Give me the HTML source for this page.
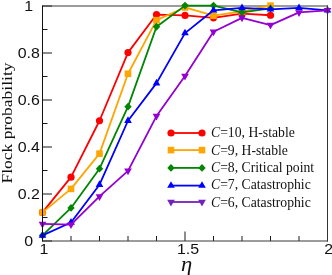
<!DOCTYPE html><html><head><meta charset="utf-8"><style>html,body{margin:0;padding:0;background:#fff}svg{display:block;will-change:transform}text{font-family:"Liberation Sans",sans-serif}.s{font-family:"Liberation Serif",serif}</style></head><body>
<svg width="332" height="275" viewBox="0 0 332 275">
<rect width="332" height="275" fill="#fff"/>
<path d="M42.50 241.0V231.5M71.00 241.0V236.0M99.50 241.0V236.0M128.00 241.0V236.0M156.50 241.0V236.0M185.00 241.0V231.5M213.50 241.0V236.0M242.00 241.0V236.0M270.50 241.0V236.0M299.00 241.0V236.0M327.50 241.0V231.5M42.5 241.00H52.0M42.5 217.50H47.5M42.5 194.00H52.0M42.5 170.50H47.5M42.5 147.00H52.0M42.5 123.50H47.5M42.5 100.00H52.0M42.5 76.50H47.5M42.5 53.00H52.0M42.5 29.50H47.5M42.5 6.00H52.0" stroke="#1a1a1a" stroke-width="1" fill="none"/>
<path d="M42.0 6.0H328.0M42.0 241.0H328.0" stroke="#383838" stroke-width="1" fill="none"/>
<polyline points="42.50,212.40 71.00,177.15 99.50,120.75 128.00,52.60 156.50,14.53 185.00,15.47 213.50,17.82 242.00,13.59 270.50,15.24" fill="none" stroke="#ff0000" stroke-width="1.8" stroke-linejoin="round"/>
<circle cx="42.50" cy="212.40" r="3.60" fill="#ff0000"/>
<circle cx="71.00" cy="177.15" r="3.60" fill="#ff0000"/>
<circle cx="99.50" cy="120.75" r="3.60" fill="#ff0000"/>
<circle cx="128.00" cy="52.60" r="3.60" fill="#ff0000"/>
<circle cx="156.50" cy="14.53" r="3.60" fill="#ff0000"/>
<circle cx="185.00" cy="15.47" r="3.60" fill="#ff0000"/>
<circle cx="213.50" cy="17.82" r="3.60" fill="#ff0000"/>
<circle cx="242.00" cy="13.59" r="3.60" fill="#ff0000"/>
<circle cx="270.50" cy="15.24" r="3.60" fill="#ff0000"/>
<polyline points="42.50,212.40 71.00,188.90 99.50,153.65 128.00,73.75 156.50,20.17 185.00,7.48 213.50,15.71 242.00,11.47 270.50,5.60" fill="none" stroke="#ffa500" stroke-width="1.8" stroke-linejoin="round"/>
<rect x="39.21" y="209.11" width="6.59" height="6.59" fill="#ffa500"/>
<rect x="67.71" y="185.61" width="6.59" height="6.59" fill="#ffa500"/>
<rect x="96.21" y="150.36" width="6.59" height="6.59" fill="#ffa500"/>
<rect x="124.71" y="70.46" width="6.59" height="6.59" fill="#ffa500"/>
<rect x="153.21" y="16.88" width="6.59" height="6.59" fill="#ffa500"/>
<rect x="181.71" y="4.19" width="6.59" height="6.59" fill="#ffa500"/>
<rect x="210.21" y="12.41" width="6.59" height="6.59" fill="#ffa500"/>
<rect x="238.71" y="8.18" width="6.59" height="6.59" fill="#ffa500"/>
<rect x="267.21" y="2.31" width="6.59" height="6.59" fill="#ffa500"/>
<polyline points="42.50,235.43 71.00,207.94 99.50,168.69 128.00,106.65 156.50,26.75 185.00,5.60 213.50,5.60 242.00,12.41 270.50,8.42" fill="none" stroke="#008600" stroke-width="1.8" stroke-linejoin="round"/>
<path d="M42.50 231.51L46.21 235.43L42.50 239.35L38.79 235.43Z" fill="#008600"/>
<path d="M71.00 204.01L74.71 207.94L71.00 211.86L67.29 207.94Z" fill="#008600"/>
<path d="M99.50 164.77L103.21 168.69L99.50 172.61L95.79 168.69Z" fill="#008600"/>
<path d="M128.00 102.73L131.71 106.65L128.00 110.57L124.29 106.65Z" fill="#008600"/>
<path d="M156.50 22.83L160.21 26.75L156.50 30.67L152.79 26.75Z" fill="#008600"/>
<path d="M185.00 1.68L188.71 5.60L185.00 9.52L181.29 5.60Z" fill="#008600"/>
<path d="M213.50 1.68L217.21 5.60L213.50 9.52L209.79 5.60Z" fill="#008600"/>
<path d="M242.00 8.49L245.71 12.41L242.00 16.34L238.29 12.41Z" fill="#008600"/>
<path d="M270.50 4.50L274.21 8.42L270.50 12.34L266.79 8.42Z" fill="#008600"/>
<polyline points="42.50,235.43 71.00,222.50 99.50,184.67 128.00,120.75 156.50,83.15 185.00,33.09 213.50,10.30 242.00,7.95 270.50,9.36 299.00,7.95 327.50,10.30" fill="none" stroke="#0000ff" stroke-width="1.8" stroke-linejoin="round"/>
<path d="M42.50 230.97L46.32 237.66L38.68 237.66Z" fill="#0000ff"/>
<path d="M71.00 218.04L74.82 224.74L67.18 224.74Z" fill="#0000ff"/>
<path d="M99.50 180.21L103.32 186.90L95.68 186.90Z" fill="#0000ff"/>
<path d="M128.00 116.29L131.82 122.98L124.18 122.98Z" fill="#0000ff"/>
<path d="M156.50 78.69L160.32 85.38L152.68 85.38Z" fill="#0000ff"/>
<path d="M185.00 28.63L188.82 35.33L181.18 35.33Z" fill="#0000ff"/>
<path d="M213.50 5.84L217.32 12.53L209.68 12.53Z" fill="#0000ff"/>
<path d="M242.00 3.49L245.82 10.18L238.18 10.18Z" fill="#0000ff"/>
<path d="M270.50 4.90L274.32 11.59L266.68 11.59Z" fill="#0000ff"/>
<path d="M299.00 3.49L302.82 10.18L295.18 10.18Z" fill="#0000ff"/>
<path d="M327.50 5.84L331.32 12.53L323.68 12.53Z" fill="#0000ff"/>
<polyline points="42.50,223.91 71.00,224.62 99.50,196.42 128.00,170.81 156.50,116.05 185.00,76.10 213.50,31.69 242.00,17.82 270.50,25.10 299.00,12.41 327.50,10.30" fill="none" stroke="#9400d3" stroke-width="1.8" stroke-linejoin="round"/>
<path d="M42.50 228.38L46.32 221.68L38.68 221.68Z" fill="#9400d3"/>
<path d="M71.00 229.08L74.82 222.39L67.18 222.39Z" fill="#9400d3"/>
<path d="M99.50 200.88L103.32 194.19L95.68 194.19Z" fill="#9400d3"/>
<path d="M128.00 175.27L131.82 168.57L124.18 168.57Z" fill="#9400d3"/>
<path d="M156.50 120.51L160.32 113.82L152.68 113.82Z" fill="#9400d3"/>
<path d="M185.00 80.56L188.82 73.87L181.18 73.87Z" fill="#9400d3"/>
<path d="M213.50 36.15L217.32 29.45L209.68 29.45Z" fill="#9400d3"/>
<path d="M242.00 22.28L245.82 15.59L238.18 15.59Z" fill="#9400d3"/>
<path d="M270.50 29.57L274.32 22.87L266.68 22.87Z" fill="#9400d3"/>
<path d="M299.00 16.88L302.82 10.18L295.18 10.18Z" fill="#9400d3"/>
<path d="M327.50 14.76L331.32 8.07L323.68 8.07Z" fill="#9400d3"/>
<path d="M42.5 5.5V241.5" stroke="#111" stroke-width="1" fill="none"/>
<path d="M327.5 5.5V241.5" stroke="#333" stroke-width="1" fill="none"/>
<text transform="translate(28.8,246.00) scale(1.10,1)" font-size="14.5" text-anchor="middle" fill="#111">0</text>
<text transform="translate(28.8,199.00) scale(1.10,1)" font-size="14.5" text-anchor="middle" fill="#111">0.2</text>
<text transform="translate(28.8,152.00) scale(1.10,1)" font-size="14.5" text-anchor="middle" fill="#111">0.4</text>
<text transform="translate(28.8,105.00) scale(1.10,1)" font-size="14.5" text-anchor="middle" fill="#111">0.6</text>
<text transform="translate(28.8,58.00) scale(1.10,1)" font-size="14.5" text-anchor="middle" fill="#111">0.8</text>
<text transform="translate(28.8,11.20) scale(1.10,1)" font-size="14.5" text-anchor="middle" fill="#111">1</text>
<text transform="translate(43.90,253.9) scale(1.10,1)" font-size="14.5" text-anchor="middle" fill="#111">1</text>
<text transform="translate(188.00,253.9) scale(1.10,1)" font-size="14.5" text-anchor="middle" fill="#111">1.5</text>
<text transform="translate(328.70,253.9) scale(1.10,1)" font-size="14.5" text-anchor="middle" fill="#111">2</text>
<text class="s" transform="translate(12.0,123.0) rotate(-90)" font-size="14" textLength="121" lengthAdjust="spacingAndGlyphs" text-anchor="middle" fill="#111">Flock probability</text>
<text class="s" transform="translate(186.5,271) scale(1.13,1)" font-size="20" font-style="italic" text-anchor="middle" fill="#111">η</text>
<path d="M171.0 133.00H202.0" stroke="#ff0000" stroke-width="1.8"/>
<circle cx="171.00" cy="133.00" r="3.60" fill="#ff0000"/>
<circle cx="202.00" cy="133.00" r="3.60" fill="#ff0000"/>
<text class="s" x="211.0" y="137.20" font-size="13.7" fill="#111"><tspan font-style="italic">C</tspan>=10, H-stable</text>
<path d="M171.0 150.10H202.0" stroke="#ffa500" stroke-width="1.8"/>
<rect x="167.71" y="146.81" width="6.59" height="6.59" fill="#ffa500"/>
<rect x="198.71" y="146.81" width="6.59" height="6.59" fill="#ffa500"/>
<text class="s" x="211.0" y="154.60" font-size="13.7" fill="#111"><tspan font-style="italic">C</tspan>=9, H-stable</text>
<path d="M171.0 167.90H202.0" stroke="#008600" stroke-width="1.8"/>
<path d="M171.00 163.98L174.71 167.90L171.00 171.82L167.29 167.90Z" fill="#008600"/>
<path d="M202.00 163.98L205.71 167.90L202.00 171.82L198.29 167.90Z" fill="#008600"/>
<text class="s" x="211.0" y="172.00" font-size="13.7" fill="#111"><tspan font-style="italic">C</tspan>=8, Critical point</text>
<path d="M171.0 185.60H202.0" stroke="#0000ff" stroke-width="1.8"/>
<path d="M171.00 181.14L174.82 187.83L167.18 187.83Z" fill="#0000ff"/>
<path d="M202.00 181.14L205.82 187.83L198.18 187.83Z" fill="#0000ff"/>
<text class="s" x="211.0" y="189.40" font-size="13.7" fill="#111"><tspan font-style="italic">C</tspan>=7, Catastrophic</text>
<path d="M171.0 202.00H202.0" stroke="#7222ba" stroke-width="1.8"/>
<path d="M171.00 206.46L174.82 199.77L167.18 199.77Z" fill="#7222ba"/>
<path d="M202.00 206.46L205.82 199.77L198.18 199.77Z" fill="#7222ba"/>
<text class="s" x="211.0" y="206.80" font-size="13.7" fill="#111"><tspan font-style="italic">C</tspan>=6, Catastrophic</text>
</svg></body></html>
